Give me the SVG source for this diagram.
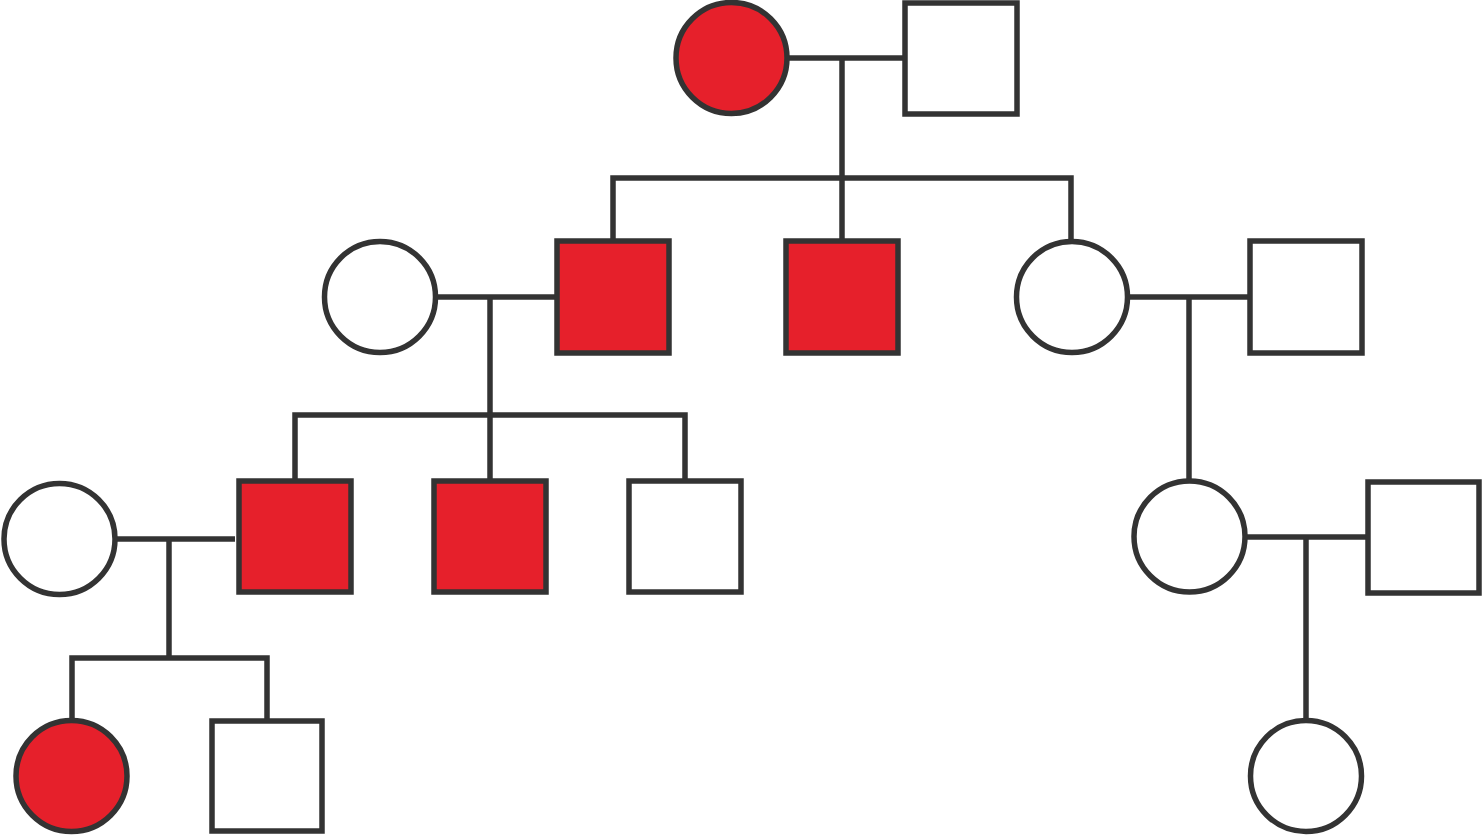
<svg xmlns="http://www.w3.org/2000/svg" width="1482" height="836" viewBox="0 0 1482 836">
<style>
.n{stroke:#333;stroke-width:5.5;fill:#fff}
.a{fill:#e6202b}
.c line,.c polyline{stroke:#333;stroke-width:5.5;stroke-linecap:butt;stroke-linejoin:miter;fill:none}
</style>
<rect width="1482" height="836" fill="#fff"/>
<g class="c">
<line x1="788" y1="58" x2="905" y2="58"/>
<line x1="842" y1="58" x2="842" y2="241"/>
<polyline points="613,241 613,178 1071,178 1071,241"/>
<line x1="436" y1="297" x2="557" y2="297"/>
<line x1="490" y1="297" x2="490" y2="481"/>
<polyline points="295,481 295,415 685,415 685,481"/>
<line x1="1128" y1="297" x2="1250" y2="297"/>
<line x1="1189" y1="297" x2="1189" y2="480"/>
<line x1="116" y1="539" x2="235" y2="539"/>
<line x1="169" y1="539" x2="169" y2="658"/>
<polyline points="72,720 72,658 267,658 267,721"/>
<line x1="1246" y1="537" x2="1368" y2="537"/>
<line x1="1306" y1="537" x2="1306" y2="720"/>
</g>
<g id="gen1-mother"><circle class="n a" cx="731.5" cy="58" r="55.5"/></g>
<g id="gen1-father"><rect class="n" x="905" y="3" width="112" height="111"/></g>
<g id="gen2-wife"><circle class="n" cx="380" cy="297" r="55.5"/></g>
<g id="gen2-son1"><rect class="n a" x="557" y="241" width="112" height="112"/></g>
<g id="gen2-son2"><rect class="n a" x="786" y="241" width="112" height="112"/></g>
<g id="gen2-daughter"><circle class="n" cx="1072" cy="297" r="55.5"/></g>
<g id="gen2-husband"><rect class="n" x="1250" y="241" width="112" height="112"/></g>
<g id="gen3-wife"><circle class="n" cx="59.5" cy="539" r="55.5"/></g>
<g id="gen3-son1"><rect class="n a" x="239" y="481" width="112" height="111"/></g>
<g id="gen3-son2"><rect class="n a" x="434" y="481" width="112" height="111"/></g>
<g id="gen3-son3"><rect class="n" x="629" y="481" width="112" height="111"/></g>
<g id="gen3-daughter"><circle class="n" cx="1189.5" cy="536.5" r="55.5"/></g>
<g id="gen3-husband"><rect class="n" x="1368" y="482" width="111" height="111"/></g>
<g id="gen4-daughter1"><circle class="n a" cx="71.5" cy="776" r="55.5"/></g>
<g id="gen4-son"><rect class="n" x="212" y="721" width="110" height="110"/></g>
<g id="gen4-daughter2"><circle class="n" cx="1306" cy="776" r="55.5"/></g>
</svg>
